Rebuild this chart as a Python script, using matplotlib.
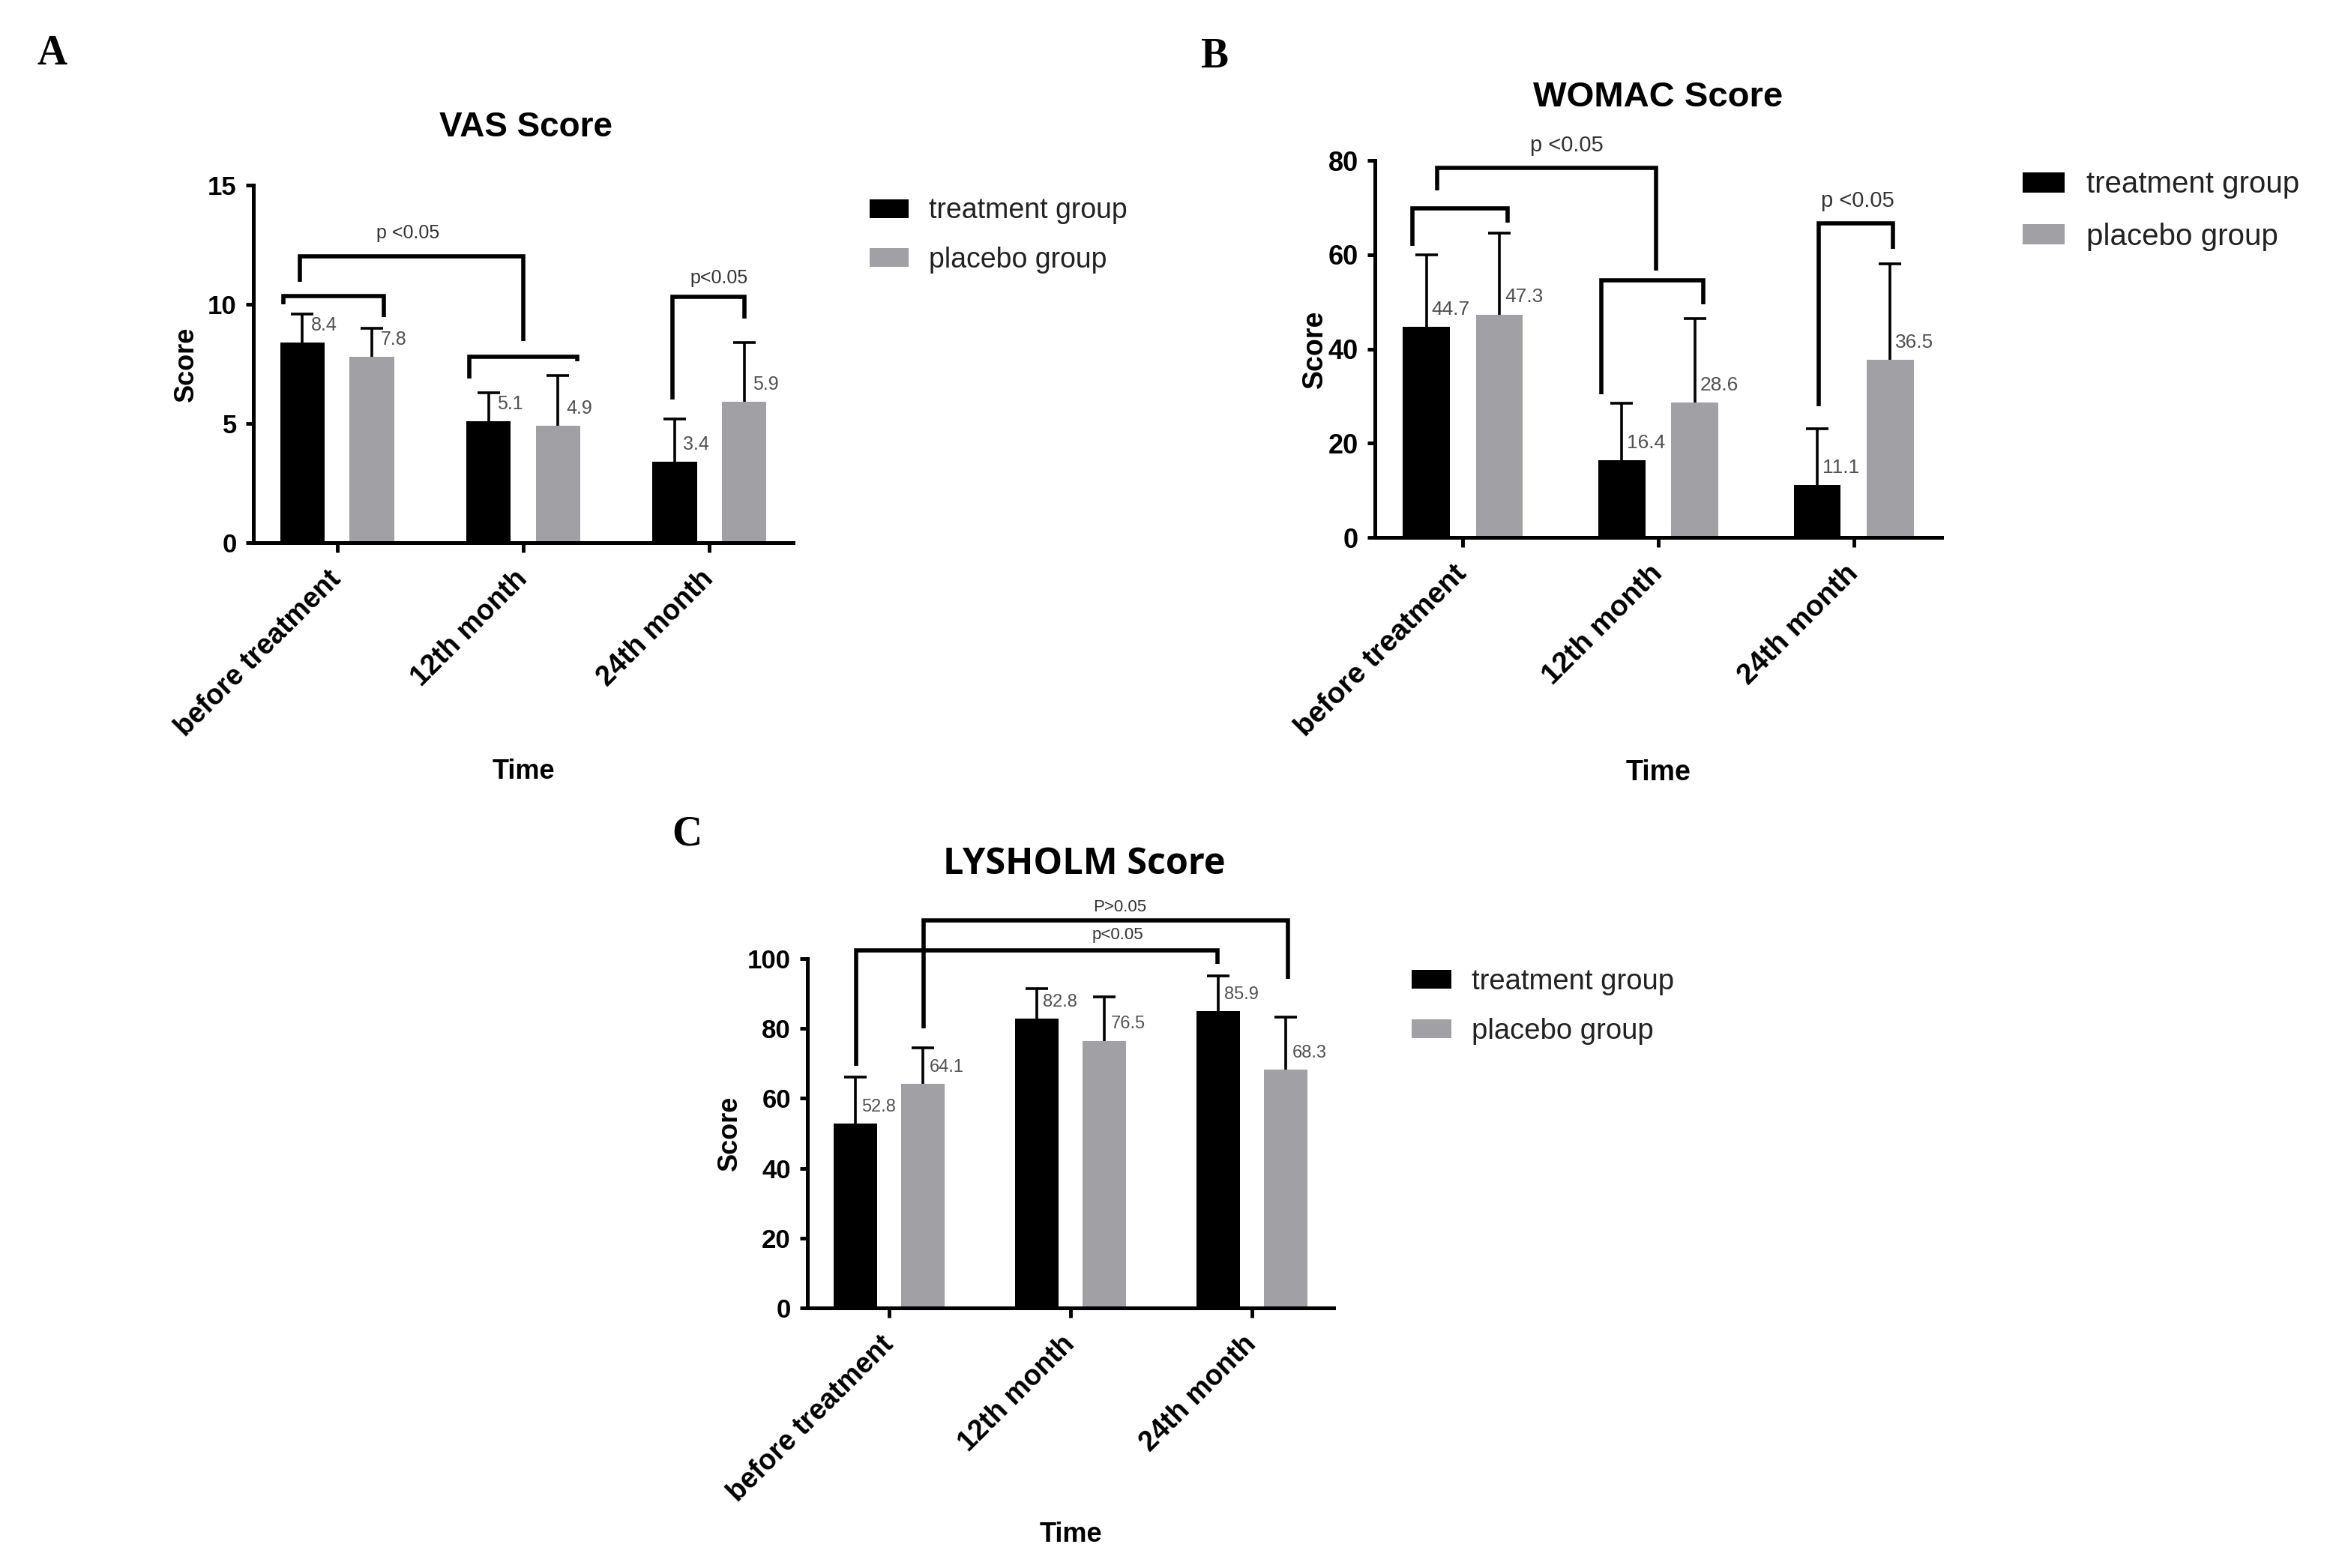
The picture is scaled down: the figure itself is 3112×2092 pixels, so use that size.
import numpy as np
import matplotlib.pyplot as plt
from matplotlib.patches import Patch

plt.rcParams['font.family'] = ['Liberation Sans', 'DejaVu Sans']

W, H = 3112, 2092
DPI = 100

BLACK = '#000000'
GRAY = '#a0a0a5'
LABEL_GRAY = '#505050'

# Data
categories = ['before treatment', '12th month', '24th month']

vas_treat = [8.4, 5.1, 3.4]
vas_treat_sd = [1.2, 1.2, 1.8]
vas_plac = [7.8, 4.9, 5.9]
vas_plac_sd = [1.2, 2.1, 2.5]
vas_treat_lbl = ['8.4', '5.1', '3.4']
vas_plac_lbl = ['7.8', '4.9', '5.9']

womac_treat = [44.7, 16.4, 11.1]
womac_treat_sd = [15.3, 12.0, 11.9]
womac_plac = [47.3, 28.6, 37.7]
womac_plac_sd = [17.2, 17.8, 20.4]
womac_treat_lbl = ['44.7', '16.4', '11.1']
womac_plac_lbl = ['47.3', '28.6', '36.5']

lys_treat = [52.8, 82.8, 85.0]
lys_treat_sd = [13.4, 8.7, 10.0]
lys_plac = [64.1, 76.5, 68.3]
lys_plac_sd = [10.3, 12.5, 15.0]
lys_treat_lbl = ['52.8', '82.8', '85.9']
lys_plac_lbl = ['64.1', '76.5', '68.3']

# significance brackets: (x1, y1, x2, y2, y_top) in data coords
vas_brackets = [(-0.29, 10.0, 0.25, 9.45, 10.35),
                (-0.20, 10.95, 1.0, 8.45, 12.0),
                (0.71, 6.9, 1.29, 7.6, 7.8),
                (1.80, 6.0, 2.19, 9.4, 10.3)]
vas_ptext = [(0.38, 13.0, 'p <0.05'), (2.05, 11.1, 'p<0.05')]

womac_brackets = [(-0.26, 61.9, 0.23, 66.8, 69.9),
                  (-0.13, 73.6, 0.99, 56.6, 78.4),
                  (0.71, 30.4, 1.23, 49.4, 54.5),
                  (1.82, 27.8, 2.20, 61.3, 66.6)]
womac_ptext = [(0.53, 83.2, 'p <0.05'), (2.02, 71.4, 'p <0.05')]

lys_brackets = [(-0.18, 69.3, 1.81, 98.6, 102.4),
                (0.19, 80.0, 2.20, 94.3, 111.0)]
lys_ptext = [(1.27, 114.8, 'P>0.05'), (1.26, 106.8, 'p<0.05')]


def px_rect(left, top, right, bottom):
    return [left / W, 1 - bottom / H, (right - left) / W, (bottom - top) / H]


def draw_panel(ax, treat, treat_sd, plac, plac_sd, treat_lbl, plac_lbl,
               yticks, brackets, ptexts, st):
    x = np.arange(len(categories))
    off, bw = 0.187, 0.24
    ax.bar(x - off, treat, bw, color=BLACK, zorder=2)
    ax.bar(x + off, plac, bw, color=GRAY, zorder=2)
    for xs, vals, sds in [(x - off, treat, treat_sd), (x + off, plac, plac_sd)]:
        _, caps, _ = ax.errorbar(xs, vals, yerr=[np.zeros(len(vals)), sds],
                                 fmt='none', ecolor='black', elinewidth=2.6,
                                 capsize=10.5, capthick=2.6, zorder=3,
                                 clip_on=False)
        caps[0].set_visible(False)
    for xs, vals, lbls in [(x - off, treat, treat_lbl), (x + off, plac, plac_lbl)]:
        for xi, v, t in zip(xs, vals, lbls):
            ax.annotate(t, (xi, v), xytext=(st['vdx'], 8),
                        textcoords='offset points',
                        ha='left', va='bottom', fontsize=st['vfs'],
                        color=LABEL_GRAY, zorder=4)

    for x1, y1, x2, y2, yt in brackets:
        ax.plot([x1, x1, x2, x2], [y1, yt, yt, y2], color='black', lw=4.0,
                solid_joinstyle='miter', solid_capstyle='butt',
                clip_on=False, zorder=5)
    for px, py, t in ptexts:
        ax.text(px, py, t, ha='center', va='center', fontsize=st['pfs'],
                color='#333333', clip_on=False)

    ax.set_xlim(-0.45, 2.45)
    ax.set_ylim(0, yticks[-1])
    ax.set_yticks(yticks)
    ax.set_xticks(x)
    ax.set_xticklabels(categories, rotation=45, ha='right', va='center',
                       rotation_mode='anchor', fontsize=st['xfs'],
                       fontweight='bold')
    for lab in ax.get_yticklabels():
        lab.set_fontweight('bold')
        lab.set_fontsize(st['yfs'])
    ax.tick_params(axis='y', length=7, width=3.5, pad=9)
    ax.tick_params(axis='x', length=9, width=3.5, pad=st['xpad'])
    for s in ['top', 'right']:
        ax.spines[s].set_visible(False)
    for s in ['left', 'bottom']:
        ax.spines[s].set_linewidth(3.6)

    ax.set_ylabel('Score', fontsize=st['lfs'], fontweight='bold', va='center')
    ax.yaxis.set_label_coords(st['ylab_x'], 0.5)
    ax.set_xlabel('Time', fontsize=st['lfs'], fontweight='bold', va='center')
    ax.xaxis.set_label_coords(0.5, st['xlab_y'])


fig = plt.figure(figsize=(W / DPI, H / DPI), dpi=DPI)

axA = fig.add_axes(px_rect(338, 247, 1058, 724))
draw_panel(axA, vas_treat, vas_treat_sd, vas_plac, vas_plac_sd,
           vas_treat_lbl, vas_plac_lbl, [0, 5, 10, 15],
           vas_brackets, vas_ptext,
           dict(vfs=18, pfs=18, xfs=27, yfs=25, lfs=26, xpad=22, vdx=8,
                ylab_x=-0.125, xlab_y=-0.64))

axB = fig.add_axes(px_rect(1834, 214, 2590, 717))
draw_panel(axB, womac_treat, womac_treat_sd, womac_plac, womac_plac_sd,
           womac_treat_lbl, womac_plac_lbl, [0, 20, 40, 60, 80],
           womac_brackets, womac_ptext,
           dict(vfs=19, pfs=21, xfs=28, yfs=26, lfs=27, xpad=22, vdx=5,
                ylab_x=-0.106, xlab_y=-0.625))

axC = fig.add_axes(px_rect(1077, 1279, 1779, 1745))
draw_panel(axC, lys_treat, lys_treat_sd, lys_plac, lys_plac_sd,
           lys_treat_lbl, lys_plac_lbl, [0, 20, 40, 60, 80, 100],
           lys_brackets, lys_ptext,
           dict(vfs=17, pfs=16, xfs=27, yfs=25, lfs=26, xpad=22, vdx=6,
                ylab_x=-0.147, xlab_y=-0.65))


def fig_text(x, y, t, **kw):
    fig.text(x / W, 1 - y / H, t, ha='center', va='center', **kw)


# titles
fig_text(701, 170, 'VAS Score', fontsize=33, fontweight='bold')
fig_text(2212, 130, 'WOMAC Score', fontsize=34, fontweight='bold')
fig_text(1446, 1154, 'LYSHOLM Score', fontsize=35, fontweight='bold',
         family=['Open Sans', 'DejaVu Sans'])

# panel letters
for x, y, t in [(70, 72, 'A'), (1620, 76, 'B'), (916, 1114, 'C')]:
    fig_text(x, y, t, fontsize=40, fontweight='bold',
             family=['Liberation Serif', 'DejaVu Serif'])

# legends
handles = [Patch(facecolor=BLACK, edgecolor='none', label='treatment group'),
           Patch(facecolor=GRAY, edgecolor='none', label='placebo group')]
for x, y, fs in [(1160, 314, 27), (2698, 281, 29), (1883, 1343, 27.5)]:
    fig.legend(handles=handles, loc='center left',
               bbox_to_anchor=(x / W, 1 - y / H), frameon=False,
               fontsize=fs, handlelength=1.38, handleheight=0.65,
               handletextpad=0.72, labelspacing=0.78, borderpad=0,
               borderaxespad=0, labelcolor='#222222')

fig.savefig('out.png', dpi=DPI)
